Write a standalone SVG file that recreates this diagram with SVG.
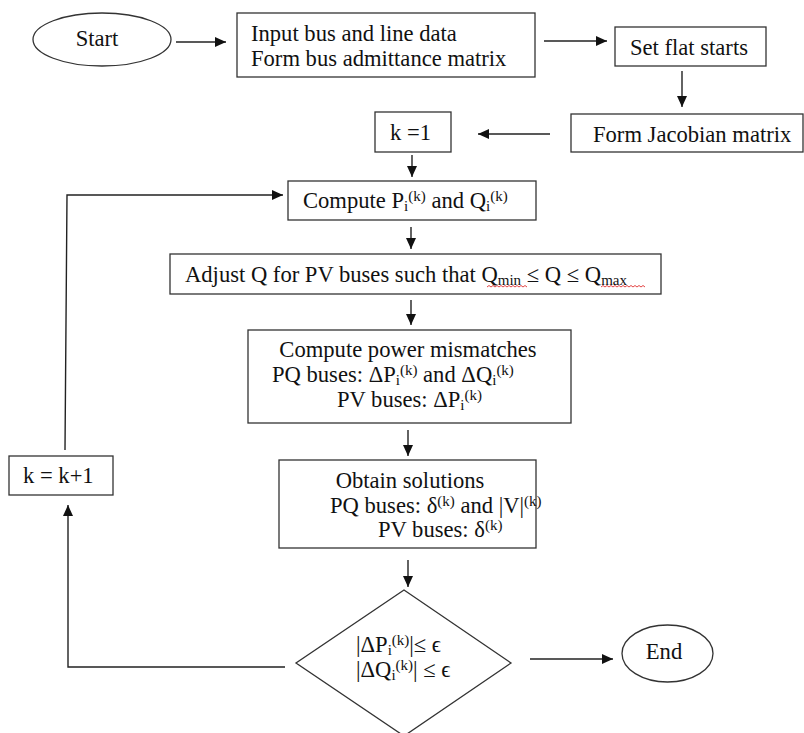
<svg xmlns="http://www.w3.org/2000/svg" width="804" height="733" viewBox="0 0 804 733">
<style>
  .box{fill:#fff;stroke:#333;stroke-width:1.3}
  .t{font-family:"Liberation Serif","Times New Roman",serif;font-size:22.6px;fill:#111}
  .s{font-size:15px}
  .c{fill:none;stroke:#222;stroke-width:1.4}
  .sq{fill:none;stroke:#e03030;stroke-width:0.9}
</style>
<defs>
  <marker id="ah" markerWidth="11" markerHeight="10" refX="11" refY="5" orient="auto" markerUnits="userSpaceOnUse">
    <path d="M0,0 L11,5 L0,10 z" fill="#111"/>
  </marker>
</defs>
<rect width="804" height="733" fill="#fff"/>

<g id="connectors">
  <line class="c" x1="176" y1="42" x2="226" y2="42" marker-end="url(#ah)"/>
  <line class="c" x1="544" y1="41" x2="607" y2="41" marker-end="url(#ah)"/>
  <line class="c" x1="682" y1="71" x2="682" y2="107" marker-end="url(#ah)"/>
  <line class="c" x1="550" y1="134" x2="478" y2="134" marker-end="url(#ah)"/>
  <line class="c" x1="412" y1="155" x2="412" y2="177" marker-end="url(#ah)"/>
  <polyline class="c" points="65,450 67,195 283,195" marker-end="url(#ah)"/>
  <line class="c" x1="411" y1="227" x2="411" y2="249" marker-end="url(#ah)"/>
  <line class="c" x1="411" y1="300" x2="411" y2="325" marker-end="url(#ah)"/>
  <line class="c" x1="408" y1="430" x2="408" y2="456" marker-end="url(#ah)"/>
  <line class="c" x1="408" y1="560" x2="408" y2="587" marker-end="url(#ah)"/>
  <polyline class="c" points="285,667 68,667 68,505" marker-end="url(#ah)"/>
  <line class="c" x1="530" y1="659" x2="613" y2="659" marker-end="url(#ah)"/>
</g>

<g id="start">
  <ellipse class="box" cx="102" cy="39.5" rx="69" ry="26.5"/>
  <text class="t" x="97" y="46" text-anchor="middle">Start</text>
</g>

<g id="input">
  <rect class="box" x="237" y="13" width="298" height="64"/>
  <text class="t" x="251" y="40.5">Input bus and line data</text>
  <text class="t" x="251" y="65.5">Form bus admittance matrix</text>
</g>

<g id="flat">
  <rect class="box" x="615" y="27" width="151" height="39"/>
  <text class="t" x="630" y="54.5">Set flat starts</text>
</g>

<g id="jacobian">
  <rect class="box" x="571" y="114" width="232" height="38"/>
  <text class="t" x="593" y="141.5">Form Jacobian matrix</text>
</g>

<g id="k1">
  <rect class="box" x="375" y="112" width="76" height="40"/>
  <text class="t" x="390" y="140">k =1</text>
</g>

<g id="compute">
  <rect class="box" x="288" y="181" width="248" height="39"/>
  <text class="t" x="303" y="208">Compute P<tspan class="s" dy="3">i</tspan><tspan class="s" dy="-10">(k)</tspan><tspan dy="7"> and Q</tspan><tspan class="s" dy="3">i</tspan><tspan class="s" dy="-10">(k)</tspan></text>
</g>

<g id="adjust">
  <rect class="box" x="170" y="254" width="491" height="40"/>
  <text class="t" x="185" y="282">Adjust Q for PV buses such that Q<tspan class="s" dy="3">min</tspan><tspan dy="-3"> ≤ Q ≤ Q</tspan><tspan class="s" dy="3">max</tspan></text>
  <path class="sq" d="M487,287 l2,-1.5 l2,1.5 l2,-1.5 l2,1.5 l2,-1.5 l2,1.5 l2,-1.5 l2,1.5 l2,-1.5 l2,1.5 l2,-1.5 l2,1.5 l2,-1.5 l2,1.5 l2,-1.5 l2,1.5 l2,-1.5 l2,1.5 l2,-1.5 l2,1.5"/>
  <path class="sq" d="M601,287 l2,-1.5 l2,1.5 l2,-1.5 l2,1.5 l2,-1.5 l2,1.5 l2,-1.5 l2,1.5 l2,-1.5 l2,1.5 l2,-1.5 l2,1.5 l2,-1.5 l2,1.5 l2,-1.5 l2,1.5 l2,-1.5 l2,1.5 l2,-1.5 l2,1.5 l2,-1.5 l2,1.5"/>
</g>

<g id="mismatch">
  <rect class="box" x="248" y="330" width="323" height="93"/>
  <text class="t" x="408" y="357" text-anchor="middle">Compute power mismatches</text>
  <text class="t" x="272" y="382">PQ buses: ΔP<tspan class="s" dy="3">i</tspan><tspan class="s" dy="-10">(k)</tspan><tspan dy="7"> and ΔQ</tspan><tspan class="s" dy="3">i</tspan><tspan class="s" dy="-10">(k)</tspan></text>
  <text class="t" x="337" y="407">PV buses: ΔP<tspan class="s" dy="3">i</tspan><tspan class="s" dy="-10">(k)</tspan></text>
</g>

<g id="obtain">
  <rect class="box" x="279" y="460" width="257" height="88"/>
  <text class="t" x="410" y="488" text-anchor="middle">Obtain solutions</text>
  <text class="t" x="330" y="513">PQ buses: δ<tspan class="s" dy="-7">(k)</tspan><tspan dy="7"> and |V|</tspan><tspan class="s" dy="-7">(k)</tspan></text>
  <text class="t" x="378" y="537">PV buses: δ<tspan class="s" dy="-7">(k)</tspan></text>
</g>

<g id="kinc">
  <rect class="box" x="9" y="456" width="104" height="39"/>
  <text class="t" x="23" y="483">k = k+1</text>
</g>

<g id="decision">
  <polygon class="box" points="404,590 511,663 404,736 296,663"/>
  <text class="t" x="356" y="652">|ΔP<tspan class="s" dy="3">i</tspan><tspan class="s" dy="-10">(k)</tspan><tspan dy="7">|≤ ϵ</tspan></text>
  <text class="t" x="356" y="677">|ΔQ<tspan class="s" dy="3">i</tspan><tspan class="s" dy="-10">(k)</tspan><tspan dy="7">| ≤ ϵ</tspan></text>
</g>

<g id="end">
  <ellipse class="box" cx="667.5" cy="653.5" rx="45.5" ry="28.5"/>
  <text class="t" x="664" y="659" text-anchor="middle">End</text>
</g>
</svg>
